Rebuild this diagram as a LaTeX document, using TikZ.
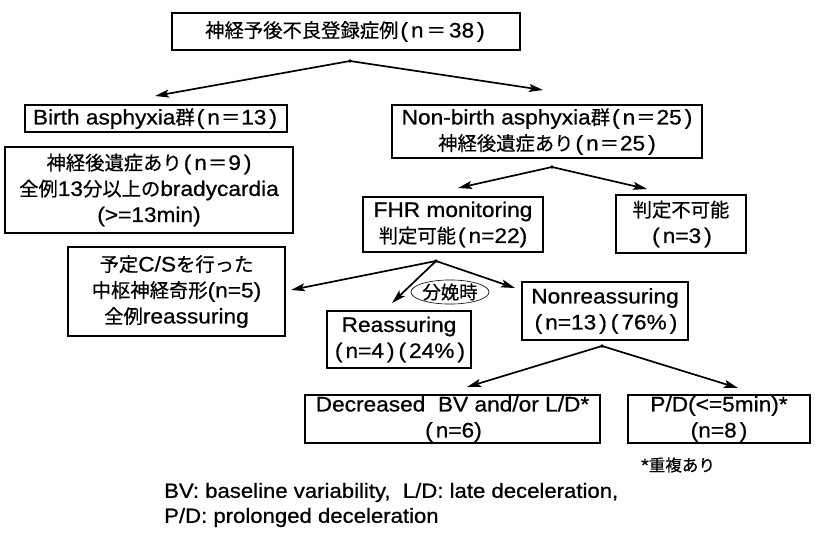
\documentclass[tikz,border=0pt]{standalone}
\usepackage{fontspec}
\setmainfont[FakeStretch=1.08,FakeBold=0.7]{Liberation Sans}
\newfontfamily\cjk[Scale=0.92,FakeBold=0.5]{Noto Sans CJK JP}
\usetikzlibrary{arrows.meta,shapes.geometric}
\newcommand{\J}[1]{{\cjk #1}}
\newcommand{\lp}{\hspace{2pt}(\hspace{3pt}}
\newcommand{\rp}{\hspace{3pt})\hspace{2pt}}
\newcommand{\eq}{\hspace{1pt}\J{＝}\hspace{1pt}}
\begin{document}
\begin{tikzpicture}[x=1pt,y=-1pt,
  box/.style={draw, line width=1.3pt, align=center, inner sep=0pt,
    font=\fontsize{21}{26}\selectfont},
  arr/.style={line width=1.7pt, -{Stealth[length=14pt,width=8pt,inset=3pt]}},
  apex/.style={circle, fill, inner sep=1.4pt},
  oval/.style={ellipse, draw, line width=0.6pt, fill=white, inner sep=0pt,
    minimum width=72pt, minimum height=24pt, font=\fontsize{20}{20}\selectfont}
]
\useasboundingbox (0,0) rectangle (818,539);

\node[box, minimum width=348, minimum height=37] (top) at (346,31.5)
  {\J{神経予後不良登録症例}\lp n\hspace{3pt}\J{＝}\hspace{3pt}38\rp};
\node[box, minimum width=262, minimum height=27] (birth) at (156,118.5)
  {Birth asphyxia\J{群}\lp n\eq 13\rp};
\node[box, minimum width=288, minimum height=86] (seq) at (149,190)
  {\J{神経後遺症あり}\lp n\eq 9\rp\\\J{全例}13\J{分以上の}bradycardia\\(>=13min)};
\node[box, minimum width=310, minimum height=53] (nonbirth) at (547,131.5)
  {Non-birth asphyxia\J{群}\lp n\eq 25\rp\\\J{神経後遺症あり}\lp n\eq 25\rp};
\node[box, minimum width=180, minimum height=55] (fhr) at (453,224.5)
  {FHR monitoring\\\J{判定可能}\lp n=22)};
\node[box, minimum width=130, minimum height=58] (fuka) at (681,224)
  {\J{判定不可能}\\\lp n=3\rp};
\node[box, minimum width=217, minimum height=89] (cs) at (176.5,291.5)
  {\J{予定}C/S\J{を行った}\\\J{中枢神経奇形}(n=5)\\\J{全例}reassuring};
\node[box, minimum width=144, minimum height=57] (reas) at (399,339.5)
  {Reassuring\\\lp n=4\rp\lp 24\%\rp};
\node[box, minimum width=166, minimum height=58] (nonreas) at (605,311)
  {Nonreassuring\\\lp n=13\rp\lp 76\%\rp};
\node[box, minimum width=295, minimum height=48] (dec) at (452.5,419)
  {Decreased\ \ BV and/or L/D*\\\lp n=6)};
\node[box, minimum width=182, minimum height=48] (pd) at (719,419)
  {P/D(<=5min)*\\(n=8\rp};
\node[anchor=west, inner sep=0pt, font=\fontsize{18}{18}\selectfont] (note) at (641,465)
  {*\J{重複あり}};
\node[anchor=west, align=left, inner sep=0pt, font=\fontsize{20.5}{25}\selectfont] (legend) at (164,505)
  {BV: baseline variability,\ \ L/D: late deceleration,\\P/D: prolonged deceleration};

% apex points
\node[apex] (a1) at (350,61) {};
\node[apex] (a2) at (552,167) {};
\node[apex] (a3) at (436,261) {};
\node[apex] (a4) at (602,346) {};

% arrow tips
\coordinate (t1l) at (155,96);
\coordinate (t1r) at (543,90);
\coordinate (t2l) at (458,188);
\coordinate (t2r) at (647,189);
\coordinate (t3l) at (291,290);
\coordinate (t3m) at (392,303);
\coordinate (t3r) at (515,288);
\coordinate (t4l) at (467,387);
\coordinate (t4r) at (738,388);

\draw[arr] (a1.center) -- (t1l);
\draw[arr] (a1.center) -- (t1r);
\draw[arr] (a2.center) -- (t2l);
\draw[arr] (a2.center) -- (t2r);
\draw[arr] (a3.center) -- (t3l);
\draw[arr] (a3.center) -- (t3m);
\draw[arr] (a3.center) -- (t3r);
\draw[arr] (a4.center) -- (t4l);
\draw[arr] (a4.center) -- (t4r);

\node[oval] (bunben) at (450,292) {\J{分娩時}};
\end{tikzpicture}
\end{document}
